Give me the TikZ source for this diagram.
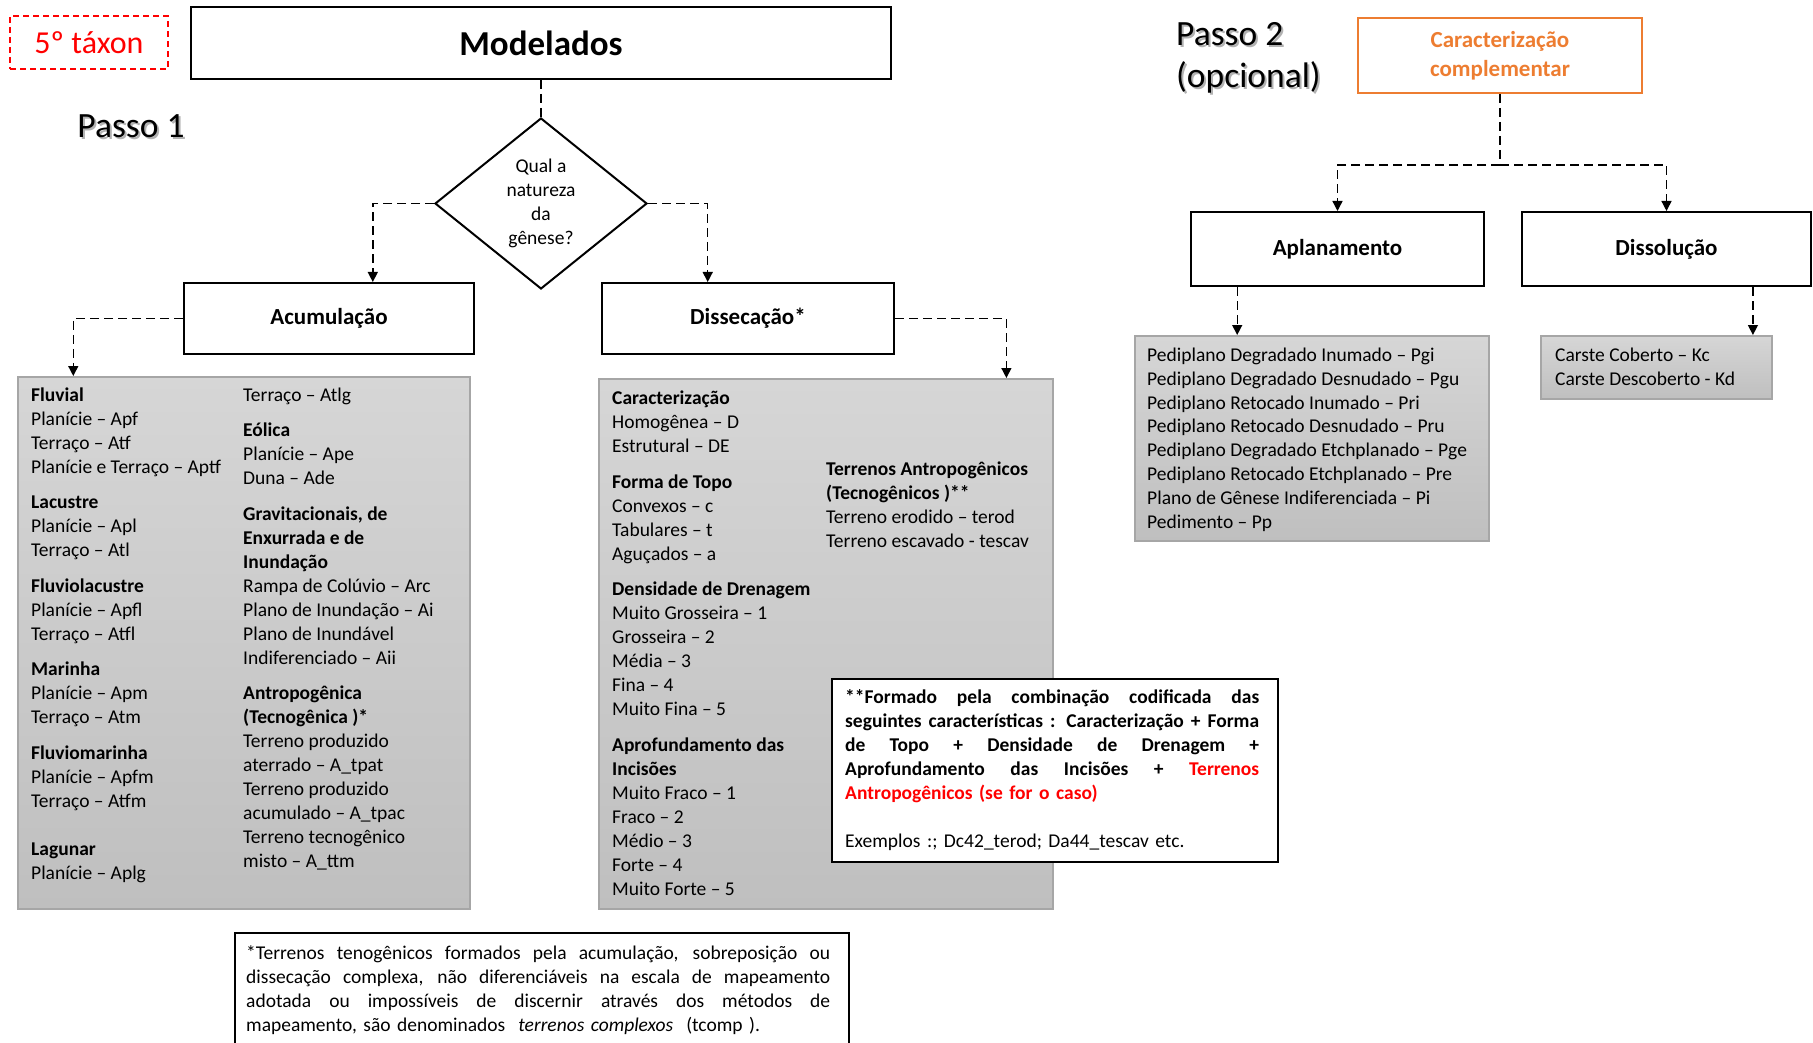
\documentclass[tikz,border=0pt]{standalone}
\usepackage{fontspec}
\setmainfont{Carlito}
\usetikzlibrary{shapes.geometric,arrows.meta,calc}

\definecolor{fillhi}{RGB}{214,214,214}
\definecolor{filllo}{RGB}{191,191,191}
\definecolor{frame}{RGB}{166,166,166}
\definecolor{accent}{RGB}{237,125,49}
\definecolor{alert}{RGB}{255,0,0}

\newcommand{\entryfont}{\fontsize{19.5}{24}\selectfont}
% a line stretched to the full text width (natural word spaces, so they can stretch)
\newcommand{\fullline}[1]{\makebox[\linewidth][s]{\spaceskip=0pt\xspaceskip=0pt #1}}

\begin{document}
\begin{tikzpicture}[x=1pt,y=-1pt,
  titlebox/.style={draw=black,line width=2pt,fill=white,inner sep=0pt,font=\bfseries\fontsize{23}{28}\selectfont},
  panel/.style={draw=frame,line width=1.8pt,top color=fillhi,bottom color=filllo,inner sep=0pt,anchor=north west},
  entries/.style={anchor=north west,inner sep=0pt,align=left,font=\entryfont},
  link/.style={line width=1.4pt,dash pattern=on 9pt off 5pt},
  flow/.style={link,-{Triangle[width=10pt,length=10pt]}},
  passo/.style={inner sep=0pt,align=left,font=\fontsize{35.5}{42}\selectfont},
  passoshade/.style={passo,text=black!55,opacity=0.55},
]
\useasboundingbox (0,0) rectangle (1813,1043);
\clip (0,0) rectangle (1813,1043);

% ---------- step 1: genesis ----------
\node[draw=alert,line width=2pt,dash pattern=on 6pt off 4pt,minimum width=158pt,minimum height=53pt,
      inner sep=0pt,text=alert,font=\fontsize{32}{38}\selectfont] (taxon) at (89,42.5) {5º táxon};

\node[titlebox,minimum width=700pt,minimum height=72pt,font=\bfseries\fontsize{35}{42}\selectfont] (model) at (541,43) {Modelados};

\node[passoshade] (p1s) at (133,128) {Passo 1};
\node[passo] (p1) at (131,126) {Passo 1};

\node[draw,line width=2pt,shape=diamond,minimum width=212pt,minimum height=171pt,inner sep=0pt,
      align=center,font=\entryfont] (gen) at (541,203.5) {Qual a\\natureza\\da\\gênese?};

\node[titlebox,minimum width=290pt,minimum height=71pt] (acum) at (329,318.5) {Acumulação};
\node[titlebox,minimum width=292pt,minimum height=71pt] (diss) at (748,318.5) {Dissecação*};

\node[panel,minimum width=452pt,minimum height=532pt] (accpanel) at (17,376) {};
\node[panel,minimum width=454pt,minimum height=530pt] (dispanel) at (598,378) {};

\draw[link] (model.south) -- (gen.north);
\coordinate (acumin) at ($(acum.north west)!0.65!(acum.north east)$);
\draw[flow] (gen.west) -| (acumin);
\coordinate (dissin) at ($(diss.north west)!0.363!(diss.north east)$);
\draw[flow] (gen.east) -| (dissin);
\coordinate (accin) at ($(accpanel.north west)!0.124!(accpanel.north east)$);
\draw[flow] (acum.west) -| (accin);
\coordinate (disin) at ($(dispanel.north west)!0.896!(dispanel.north east)$);
\draw[flow] (diss.east) -| (disin);

% accumulation codes
\node[entries] (acc1) at (31,384) {\strut\textbf{Fluvial}\\
Planície – Apf\\
Terraço – Atf\\
Planície e Terraço  – Aptf\\[11.5pt]
\textbf{Lacustre}\\
Planície – Apl\\
Terraço – Atl\\[11.5pt]
\textbf{Fluviolacustre}\\
Planície – Apfl\\
Terraço – Atfl\\[11.5pt]
\textbf{Marinha}\\
Planície – Apm\\
Terraço – Atm\\[11.5pt]
\textbf{Fluviomarinha}\\
Planície – Apfm\\
Terraço – Atfm\\[24pt]
\textbf{Lagunar}\\
Planície – Aplg};

\node[entries] (acc2) at (243,384) {\strut Terraço – Atlg\\[11.5pt]
\textbf{Eólica}\\
Planície – Ape\\
Duna – Ade\\[11.5pt]
\textbf{Gravitacionais, de}\\
\textbf{Enxurrada e de}\\
\textbf{Inundação}\\
Rampa de Colúvio – Arc\\
Plano de Inundação  – Ai\\
Plano de Inundável\\
Indiferenciado  – Aii\\[11.5pt]
\textbf{Antropogênica}\\
\textbf{(Tecnogênica )*}\\
Terreno produzido\\
aterrado – A\_tpat\\
Terreno produzido\\
acumulado  – A\_tpac\\
Terreno tecnogênico\\
misto – A\_ttm};

% dissection codes
\node[entries] (dis1) at (612,387.5) {\strut\textbf{Caracterização}\\
Homogênea  – D\\
Estrutural – DE\\[11.5pt]
\textbf{Forma de Topo}\\
Convexos  – c\\
Tabulares  – t\\
Aguçados  – a\\[11.5pt]
\textbf{Densidade de Drenagem}\\
Muito Grosseira  – 1\\
Grosseira  – 2\\
Média – 3\\
Fina – 4\\
Muito Fina – 5\\[11.5pt]
\textbf{Aprofundamento das}\\
\textbf{Incisões}\\
Muito Fraco – 1\\
Fraco – 2\\
Médio – 3\\
Forte – 4\\
Muito Forte – 5};

\node[entries] (dis2) at (826,458) {\strut\textbf{Terrenos  Antropogênicos}\\
\textbf{(Tecnogênicos  )**}\\
Terreno erodido  – terod\\
Terreno escavado  - tescav};

% coding note
\node[draw=black,line width=2pt,fill=white,minimum width=446pt,minimum height=183pt,
      anchor=north west,inner sep=0pt] (codebox) at (831,678) {};
\node[anchor=north west,inner sep=0pt,text width=414pt,align=left,font=\entryfont] (codetext) at (845,686.8) {%
\bfseries
\fullline{\strut **Formado pela combinação codificada das}\\
\fullline{seguintes características : Caracterização + Forma}\\
\fullline{de Topo + Densidade de Drenagem +}\\
\fullline{Aprofundamento das Incisões + \textcolor{alert}{Terrenos}}\\
\textcolor{alert}{Antropogênicos  (se for o caso)}\\[24pt]
\mdseries Exemplos :; Dc42\_terod; Da44\_tescav etc.};

% complex terrain note
\node[draw=black,line width=2pt,fill=white,minimum width=614pt,minimum height=140pt,
      anchor=north west,inner sep=0pt] (notebox) at (234,932) {};
\node[anchor=north west,inner sep=0pt,text width=584pt,align=left,font=\entryfont] (notetext) at (246,942.4) {%
\fullline{\strut *Terrenos tenogênicos formados pela acumulação, sobreposição ou}\\
\fullline{dissecação complexa, não diferenciáveis na escala de mapeamento}\\
\fullline{adotada ou impossíveis de discernir através dos métodos de}\\
mapeamento, são denominados \ \textit{terrenos complexos} \ (tcomp ).};

% ---------- step 2: complementary ----------
\node[passoshade,anchor=west] (p2s) at (1178,60) {Passo 2\\(opcional)};
\node[passo,anchor=west] (p2) at (1176,58) {Passo 2\\(opcional)};

\node[draw=accent,line width=2pt,minimum width=284pt,minimum height=75pt,inner sep=0pt,align=center,
      text=accent,font=\bfseries\fontsize{23}{29}\selectfont] (compl) at (1500,55.5) {Caracterização\\complementar};

\node[titlebox,minimum width=293pt,minimum height=74pt] (aplan) at (1337.5,249) {Aplanamento};
\node[titlebox,minimum width=289pt,minimum height=74pt] (dissol) at (1666.5,249) {Dissolução};

\coordinate (split) at ($(compl.south)+(0,71)$);
\draw[link] (compl.south) -- (split);
\draw[flow] (split) -| (aplan.north);
\draw[flow] (split) -| (dissol.north);

\node[panel,minimum width=354pt,minimum height=205pt] (plpanel) at (1134,335) {};
\node[panel,minimum width=231pt,minimum height=63pt] (kpanel) at (1540,335) {};

\coordinate (aplout) at ($(aplan.south west)!0.16!(aplan.south east)$);
\draw[flow] (aplout) -- (aplout |- plpanel.north);
\coordinate (disout) at ($(dissol.south west)!0.797!(dissol.south east)$);
\draw[flow] (disout) -- (disout |- kpanel.north);

\node[entries,font=\fontsize{19.5}{23.8}\selectfont] (pllist) at (1147,344.6) {\strut Pediplano  Degradado Inumado  – Pgi\\
Pediplano  Degradado Desnudado  – Pgu\\
Pediplano  Retocado Inumado  – Pri\\
Pediplano  Retocado Desnudado  – Pru\\
Pediplano  Degradado Etchplanado  – Pge\\
Pediplano  Retocado  Etchplanado – Pre\\
Plano de Gênese Indiferenciada  – Pi\\
Pedimento  – Pp};

\node[entries,font=\fontsize{19.5}{23.8}\selectfont] (klist) at (1555,344.6) {\strut Carste Coberto – Kc\\
Carste Descoberto  - Kd};

\end{tikzpicture}
\end{document}
